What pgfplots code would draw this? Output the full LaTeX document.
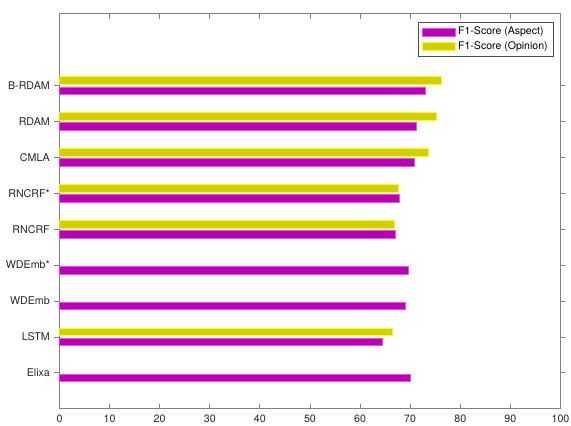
\documentclass[border=0pt]{standalone}
\usepackage{pgfplots}
\pgfplotsset{compat=1.18}
\usepackage{fontspec}
\setmainfont{TeX Gyre Heros}
\definecolor{aspfill}{rgb}{0.72,0,0.71}
\definecolor{aspedge}{rgb}{0.95,0.3,0.95}
\definecolor{opfill}{rgb}{0.82,0.81,0}
\definecolor{opedge}{rgb}{1,1,0}
\begin{document}
\begin{tikzpicture}
\useasboundingbox (-44.6pt,-12.75pt) rectangle (383.65pt,306.55pt);
\begin{axis}[
  at={(0,0)}, anchor=south west,
  scale only axis,
  width=375.75pt, height=296.25pt,
  xmin=0, xmax=100, ymin=0, ymax=11,
  xtick={0,10,...,100},
  ytick={1,...,9},
  yticklabels={Elixa,LSTM,WDEmb,WDEmb*,RNCRF,RNCRF*,CMLA,RDAM,B-RDAM},
  tick align=inside,
  major tick length=3.75pt,
  axis line style={black!50, line width=0.6pt},
  every tick/.style={black!50, line width=0.6pt},
  tick label style={font=\fontsize{8pt}{9.5pt}\selectfont, text=black!85},
  xticklabel style={yshift=-1pt},
  /pgf/number format/assume math mode=true,
  xbar, bar width=5.6pt,
  legend cell align=left,
  legend style={at={(0.987,0.98)}, anchor=north east, draw=black!70, line width=0.5pt,
    font=\fontsize{7.9pt}{9.5pt}\selectfont, inner xsep=2.5pt, inner ysep=1.8pt,
    row sep=-0.5pt},
  legend image code/.code={\draw[#1, line width=0.5pt] (0pt,-3pt) rectangle (25pt,3pt);},
]
\addplot[fill=aspfill, draw=aspedge, line width=0.5pt, bar shift=-3.8pt] coordinates {
 (70.1,1) (64.4,2) (69.1,3) (69.7,4) (67.1,5) (67.8,6) (70.8,7) (71.3,8) (73.1,9)};
\addlegendentry{F1-Score (Aspect)}
\addplot[fill=opfill, draw=opedge, line width=0.5pt, bar shift=3.8pt] coordinates {
 (66.4,2) (66.9,5) (67.6,6) (73.7,7) (75.2,8) (76.3,9)};
\addlegendentry{F1-Score (Opinion)}
\end{axis}
\end{tikzpicture}
\end{document}
